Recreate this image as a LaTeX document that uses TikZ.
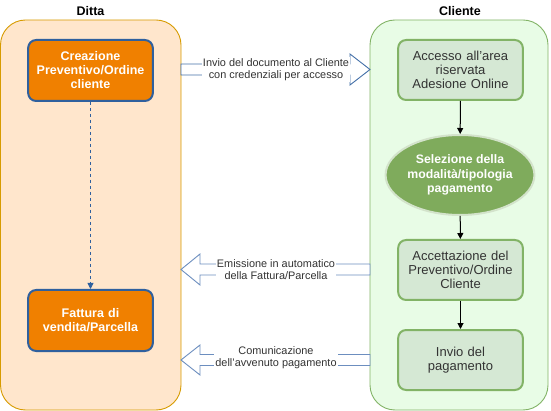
\documentclass[tikz,border=0pt]{standalone}
\usepackage{fontspec}
\setmainfont{Liberation Sans}
\usetikzlibrary{arrows.meta,shapes.geometric}
\definecolor{dittafill}{HTML}{FFE6CC}
\definecolor{dittaline}{HTML}{D79B00}
\definecolor{clifill}{HTML}{E8FCE6}
\definecolor{cliline}{HTML}{82B366}
\definecolor{orbox}{HTML}{F08000}
\definecolor{blueline}{HTML}{2F609E}
\definecolor{gbox}{HTML}{D5E8D4}
\definecolor{gell}{HTML}{7FAB5C}
\definecolor{gellline}{HTML}{D3E3CB}
\definecolor{arrline}{HTML}{6C8EBF}
\definecolor{txt}{HTML}{333333}
\tikzset{
  lane/.style={rounded corners=25pt, line width=0.9pt},
  orangebox/.style={draw=blueline, fill=orbox, line width=2pt, rounded corners=8pt,
    minimum width=121pt, minimum height=61pt, text width=118pt, align=center,
    text=white, font=\fontsize{12.5}{14}\selectfont\bfseries},
  greenbox/.style={draw=cliline, fill=gbox, line width=2pt, rounded corners=8pt,
    minimum width=121pt, minimum height=60pt, text width=118pt, align=center,
    text=txt, font=\fontsize{13}{14}\selectfont},
  greenell/.style={ellipse, draw=gellline, fill=gell, line width=2pt,
    minimum width=122pt, minimum height=80pt, inner sep=0pt, align=center,
    text=white, font=\fontsize{12.3}{14.5}\selectfont\bfseries},
  blockarr/.style={draw=arrline, fill=white, line width=0.9pt},
  arrlabel/.style={fill=white, inner sep=1pt, align=center, text=txt,
    font=\fontsize{10.9}{12.3}\selectfont},
  flow/.style={-{Triangle[length=6pt,width=6pt]}, line width=1pt, black},
  title/.style={font=\fontsize{12.5}{14}\selectfont\bfseries}
}
\begin{document}
\begin{tikzpicture}[x=1pt,y=-1pt]
\useasboundingbox (0,0) rectangle (551,411);
% lanes
\draw[lane, draw=dittaline, fill=dittafill] (0.5,20) rectangle (181,410);
\draw[lane, draw=cliline, fill=clifill] (370,20) rectangle (548,410);
\node[title] (tditta) at (90.5,11) {Ditta};
\node[title] (tcli) at (460,11) {Cliente};
% Ditta nodes
\node[orangebox] (crea) at (90.5,70.5) {Creazione\\Preventivo/Ordine\\cliente};
\node[orangebox] (fatt) at (90.5,320.5) {Fattura di\\vendita/Parcella};
\draw[blueline, dashed, line width=0.8pt, -{Triangle[length=6pt,width=6pt]}] (crea) -- (fatt);
% Cliente nodes
\node[greenbox] (acc) at (460.5,70) {Accesso all'area\\riservata\\Adesione Online};
\node[greenell] (sel) at (460,175) {Selezione della\\modalità/tipologia\\pagamento};
\node[greenbox] (acce) at (460.5,270) {Accettazione del\\Preventivo/Ordine\\Cliente};
\node[greenbox] (inv) at (460.5,360) {Invio del\\pagamento};
\draw[flow] (acc) -- (sel);
\draw[flow] (sel) -- (acce);
\draw[flow] (acce) -- (inv);
% block arrows
\draw[blockarr, draw=blueline!90] (181,64)--(350,64)--(350,54)--(370,69.5)--(350,85)--(350,75)--(181,75)--cycle;
\node[arrlabel] (l1) at (276,69.5) {Invio del documento al Cliente\\con credenziali per accesso};
\draw[blockarr] (370,264)--(200,264)--(200,254)--(181,269.5)--(200,285)--(200,275)--(370,275)--cycle;
\node[arrlabel] (l2) at (276,269.5) {Emissione in automatico\\della Fattura/Parcella};
\draw[blockarr] (370,354.5)--(200,354.5)--(200,345)--(181,360)--(200,375)--(200,365.5)--(370,365.5)--cycle;
\node[arrlabel] (l3) at (276,358) {Comunicazione\\dell'avvenuto pagamento};
\end{tikzpicture}
\end{document}
